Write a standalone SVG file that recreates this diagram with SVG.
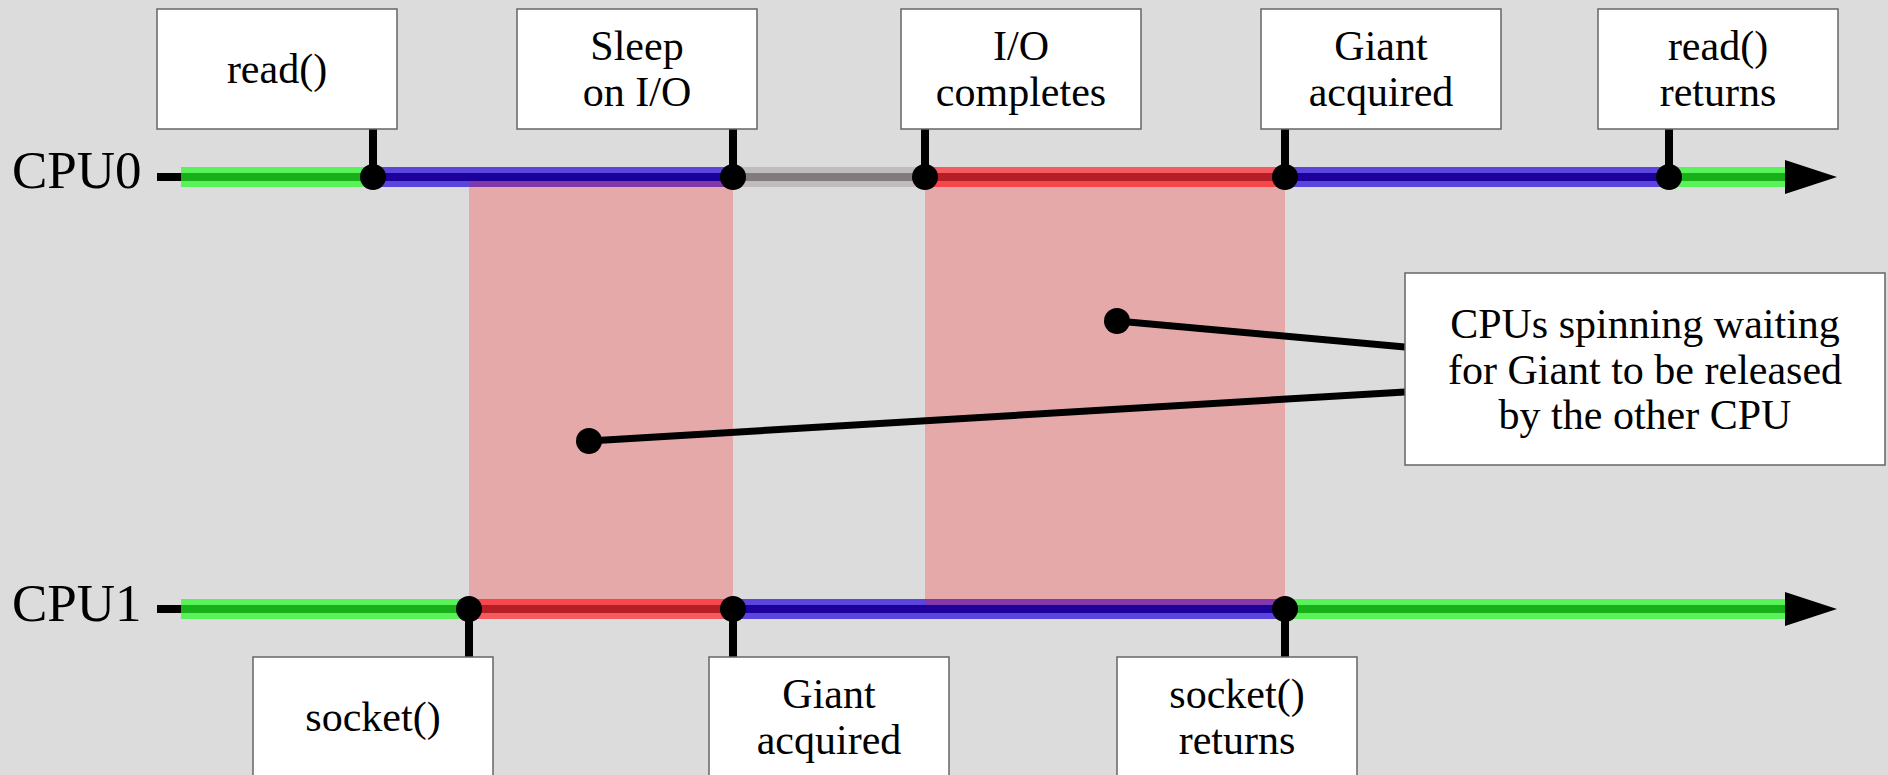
<svg xmlns="http://www.w3.org/2000/svg" width="1888" height="775" viewBox="0 0 1888 775">
<style>
.box{fill:#ffffff;stroke:#666666;stroke-width:1.5}
.lbl{font-family:"Liberation Serif","Times New Roman",serif;font-size:42px;fill:#000;text-anchor:middle}
.cpu{font-family:"Liberation Serif","Times New Roman",serif;font-size:53px;fill:#000}
.axis{stroke:#000;stroke-width:8}
.stem{stroke:#000;stroke-width:8}
.ptr{stroke:#000;stroke-width:7;fill:none}
.go{stroke:#5af25a;stroke-width:20}
.gi{stroke:#18b018;stroke-width:8}
.bo{stroke:#5a46dc;stroke-width:20}
.bi{stroke:#1c009c;stroke-width:8}
.ro{stroke:#f45a5e;stroke-width:20}
.ri{stroke:#b41e26;stroke-width:8}
.yo{stroke:#c0bcbe;stroke-width:20}
.yi{stroke:#807c7e;stroke-width:8}
.spin{fill:#ff1010;fill-opacity:0.25}
</style>
<rect x="0" y="0" width="1888" height="775" fill="#dcdcdc"/>

<g id="cpu0-timeline">
  <text class="cpu" x="12" y="188">CPU0</text>
  <line class="axis" x1="157" y1="177" x2="1790" y2="177"/>
  <line class="go" x1="181" y1="177" x2="373" y2="177"/><line class="gi" x1="181" y1="177" x2="373" y2="177"/>
  <line class="bo" x1="373" y1="177" x2="733" y2="177"/><line class="bi" x1="373" y1="177" x2="733" y2="177"/>
  <line class="yo" x1="733" y1="177" x2="925" y2="177"/><line class="yi" x1="733" y1="177" x2="925" y2="177"/>
  <line class="ro" x1="925" y1="177" x2="1285" y2="177"/><line class="ri" x1="925" y1="177" x2="1285" y2="177"/>
  <line class="bo" x1="1285" y1="177" x2="1669" y2="177"/><line class="bi" x1="1285" y1="177" x2="1669" y2="177"/>
  <line class="go" x1="1669" y1="177" x2="1790" y2="177"/><line class="gi" x1="1669" y1="177" x2="1790" y2="177"/>
  <polygon points="1785,160 1837,177 1785,194" fill="#000"/>
</g>

<g id="cpu1-timeline">
  <text class="cpu" x="12" y="621">CPU1</text>
  <line class="axis" x1="157" y1="609" x2="1790" y2="609"/>
  <line class="go" x1="181" y1="609" x2="469" y2="609"/><line class="gi" x1="181" y1="609" x2="469" y2="609"/>
  <line class="ro" x1="469" y1="609" x2="733" y2="609"/><line class="ri" x1="469" y1="609" x2="733" y2="609"/>
  <line class="bo" x1="733" y1="609" x2="1285" y2="609"/><line class="bi" x1="733" y1="609" x2="1285" y2="609"/>
  <line class="go" x1="1285" y1="609" x2="1790" y2="609"/><line class="gi" x1="1285" y1="609" x2="1790" y2="609"/>
  <polygon points="1785,592 1837,609 1785,626" fill="#000"/>
</g>

<g id="spin-regions">
  <rect class="spin" x="469" y="181" width="264" height="424"/>
  <rect class="spin" x="925" y="181" width="360" height="424"/>
</g>

<g id="connectors">
  <line class="stem" x1="373" y1="129" x2="373" y2="177"/>
  <line class="stem" x1="733" y1="129" x2="733" y2="177"/>
  <line class="stem" x1="925" y1="129" x2="925" y2="177"/>
  <line class="stem" x1="1285" y1="129" x2="1285" y2="177"/>
  <line class="stem" x1="1669" y1="129" x2="1669" y2="177"/>
  <line class="stem" x1="469" y1="609" x2="469" y2="657"/>
  <line class="stem" x1="733" y1="609" x2="733" y2="657"/>
  <line class="stem" x1="1285" y1="609" x2="1285" y2="657"/>
  <line class="ptr" x1="1117" y1="321" x2="1405" y2="347"/>
  <line class="ptr" x1="589" y1="441" x2="1405" y2="392"/>
  <g fill="#000">
    <circle cx="373" cy="177" r="13"/>
    <circle cx="733" cy="177" r="13"/>
    <circle cx="925" cy="177" r="13"/>
    <circle cx="1285" cy="177" r="13"/>
    <circle cx="1669" cy="177" r="13"/>
    <circle cx="469" cy="609" r="13"/>
    <circle cx="733" cy="609" r="13"/>
    <circle cx="1285" cy="609" r="13"/>
    <circle cx="1117" cy="321" r="13"/>
    <circle cx="589" cy="441" r="13"/>
  </g>
</g>

<g id="n-read">
  <rect class="box" x="157" y="9" width="240" height="120"/>
  <text class="lbl" x="277" y="83">read()</text>
</g>
<g id="n-sleep">
  <rect class="box" x="517" y="9" width="240" height="120"/>
  <text class="lbl" x="637" y="60">Sleep</text>
  <text class="lbl" x="637" y="106">on I/O</text>
</g>
<g id="n-io">
  <rect class="box" x="901" y="9" width="240" height="120"/>
  <text class="lbl" x="1021" y="60">I/O</text>
  <text class="lbl" x="1021" y="106">completes</text>
</g>
<g id="n-giant0">
  <rect class="box" x="1261" y="9" width="240" height="120"/>
  <text class="lbl" x="1381" y="60">Giant</text>
  <text class="lbl" x="1381" y="106">acquired</text>
</g>
<g id="n-readret">
  <rect class="box" x="1598" y="9" width="240" height="120"/>
  <text class="lbl" x="1718" y="60">read()</text>
  <text class="lbl" x="1718" y="106">returns</text>
</g>
<g id="n-socket">
  <rect class="box" x="253" y="657" width="240" height="120"/>
  <text class="lbl" x="373" y="731">socket()</text>
</g>
<g id="n-giant1">
  <rect class="box" x="709" y="657" width="240" height="120"/>
  <text class="lbl" x="829" y="708">Giant</text>
  <text class="lbl" x="829" y="754">acquired</text>
</g>
<g id="n-socketret">
  <rect class="box" x="1117" y="657" width="240" height="120"/>
  <text class="lbl" x="1237" y="708">socket()</text>
  <text class="lbl" x="1237" y="754">returns</text>
</g>
<g id="n-note">
  <rect class="box" x="1405" y="273" width="480" height="192"/>
  <text class="lbl" x="1645" y="338">CPUs spinning waiting</text>
  <text class="lbl" x="1645" y="384">for Giant to be released</text>
  <text class="lbl" x="1645" y="429">by the other CPU</text>
</g>
</svg>
